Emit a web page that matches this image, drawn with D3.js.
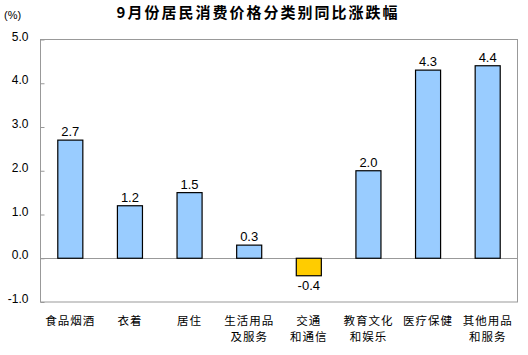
<!DOCTYPE html>
<html><head><meta charset="utf-8">
<script src="https://d3js.org/d3.v7.min.js"></script>
<style>
body{margin:0;background:#fff;}
svg{display:block;}
</style></head>
<body>
<svg id="c" width="528" height="355"></svg>
<script>
const categories = [["食品烟酒"],["衣着"],["居住"],["生活用品","及服务"],["交通","和通信"],["教育文化","和娱乐"],["医疗保健"],["其他用品","和服务"]];
const values = [2.7, 1.2, 1.5, 0.3, -0.4, 2.0, 4.3, 4.4];
const yTicks = [-1.0, 0.0, 1.0, 2.0, 3.0, 4.0, 5.0];
const title = "9月份居民消费价格分类别同比涨跌幅";
const unit = "(%)";

const svg = d3.select("#c");
const L = 40.5, R = 517.5, T = 39.5, B = 302;
const x = d3.scaleBand().domain(d3.range(categories.length)).range([L, R]).paddingInner(0.58).paddingOuter(0.29);
const y = d3.scaleLinear().domain([-1, 5]).range([B, T]);
const cjk = "'Noto Sans CJK SC', sans-serif";
const num = "'Liberation Sans', Arial, sans-serif";
const fmt = d => d3.format(".1f")(d).replace("\u2212", "-");

svg.append("text").attr("x", 258).attr("y", 18).attr("text-anchor", "middle")
  .attr("font-family", cjk).attr("font-size", 15).attr("font-weight", "bold").attr("letter-spacing", 2)
  .attr("fill", "#000").text(title);
svg.append("text").attr("x", 4).attr("y", 19).attr("font-family", num).attr("font-size", 11).text(unit);

// frame
svg.append("rect").attr("x", L).attr("y", T).attr("width", R - L).attr("height", B - T)
  .attr("fill", "none").attr("stroke", "#999").attr("stroke-width", 1);

// y axis
const yAxis = d3.axisLeft(y).tickValues(yTicks).tickFormat(fmt).tickSizeInner(-4).tickSizeOuter(0).tickPadding(12);
const ga = svg.append("g").attr("transform", `translate(${L},0)`).call(yAxis);
ga.select(".domain").remove();
ga.selectAll(".tick line").attr("stroke", "#999");
ga.selectAll(".tick text").attr("font-family", num).attr("font-size", 12).attr("fill", "#000").attr("dy", "0.05em");

// zero line
svg.append("line").attr("x1", L).attr("x2", R).attr("y1", Math.round(y(0)) + 0.5).attr("y2", Math.round(y(0)) + 0.5)
  .attr("stroke", "#999");

// bars
svg.selectAll("rect.bar").data(values).join("rect").attr("class", "bar")
  .attr("x", (d, i) => x(i))
  .attr("width", x.bandwidth())
  .attr("y", d => y(Math.max(0, d)))
  .attr("height", d => Math.abs(y(d) - y(0)))
  .attr("fill", d => d >= 0 ? "#99CCFF" : "#FFCC00")
  .attr("stroke", "#000").attr("stroke-width", 1.2);

// value labels
svg.selectAll("text.val").data(values).join("text").attr("class", "val")
  .attr("x", (d, i) => x(i) + x.bandwidth() / 2)
  .attr("y", d => d >= 0 ? y(d) - 4 : y(d) + 14)
  .attr("text-anchor", "middle").attr("font-family", num).attr("font-size", 13).attr("fill", "#000")
  .text(fmt);

// category labels
const gc = svg.selectAll("g.cat").data(categories).join("g").attr("class", "cat");
gc.each(function(lines, i) {
  const g = d3.select(this);
  lines.forEach((t, k) => {
    g.append("text").attr("x", x(i) + x.bandwidth() / 2)
      .attr("y", 325 + k * 16).attr("text-anchor", "middle")
      .attr("font-family", cjk).attr("font-size", 11.5).attr("letter-spacing", 1).attr("fill", "#000").text(t);
  });
});
</script>
</body></html>
